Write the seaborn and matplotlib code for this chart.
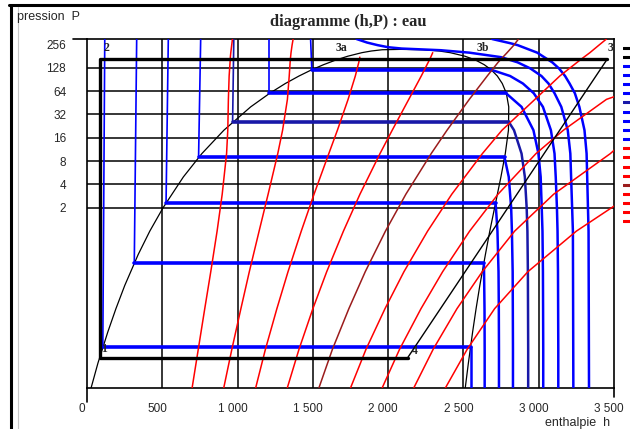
import numpy as np
import pandas as pd
import matplotlib.pyplot as plt
import matplotlib.transforms as mtransforms
from matplotlib.lines import Line2D
from matplotlib.ticker import NullLocator
import seaborn as sns

sns.set_style("white")
plt.rcParams['font.family'] = ['Liberation Sans', 'DejaVu Sans']

# ============================
# courbe de saturation (cloche)
# ============================
sat_P = [0.0095, 0.02, 0.05, 0.1, 0.2, 0.5, 1, 2, 5, 10, 20, 40, 60, 80, 100, 120, 140, 160, 180, 200, 210, 218, 220.6]
sat_hf = [27, 73, 138, 192, 251, 340, 417, 505, 640, 763, 909, 1087, 1214, 1317, 1408, 1491, 1571, 1650, 1732, 1826, 1888, 1960, 2084]
sat_hg = [2512, 2533, 2561, 2584, 2609, 2646, 2675, 2707, 2749, 2778, 2799, 2801, 2785, 2758, 2725, 2685, 2638, 2582, 2510, 2412, 2340, 2230, 2084]

# ============================
# isothermes (°C)
# ============================
iso_T = [25, 75, 125, 175, 225, 275, 325]
iso_psat = [0.0317, 0.386, 2.32, 8.92, 25.5, 59.5, 120.6]
iso_h_top = [118, 330, 540, 755, 975, 1210, 1485]   # liquide a 300 bar
iso_hf = [105, 314, 525, 741, 967, 1210, 1493]
iso_hg = [2547, 2636, 2713, 2773, 2802, 2785, 2683]

vap_P = [0.0095, 0.03, 0.1, 0.3, 1, 2, 5, 10, 20, 40, 60, 80, 100]
vap_h_25 = [2547, 2547]
vap_h_75 = [2641, 2641, 2640, 2637]
vap_h_125 = [2736, 2736, 2735, 2733, 2726, 2716]
vap_h_175 = [2829, 2829, 2828, 2827, 2822, 2817, 2801]
vap_h_225 = [2930, 2930, 2929, 2928, 2925, 2920, 2908, 2886, 2836]
vap_h_275 = [3030, 3030, 3029, 3028, 3025, 3020, 3013, 2998, 2965, 2886]
vap_h_325 = [3130, 3130, 3129, 3128, 3125, 3121, 3113, 3105, 3081, 3028, 2967, 2895, 2810]

# isothermes supercritiques
sc_P_375 = [300, 270, 250, 235, 226, 215, 200, 175, 150, 125, 100, 80, 60, 40, 20, 10, 1, 0.0095]
sc_h_375 = [1790, 1860, 1930, 2000, 2090, 2350, 2540, 2750, 2860, 2945, 3018, 3065, 3105, 3150, 3193, 3210, 3227, 3230]
sc_P_425 = [300, 265, 250, 200, 150, 125, 100, 80, 60, 40, 20, 10, 1, 0.0095]
sc_h_425 = [2690, 2810, 2860, 2990, 3090, 3135, 3175, 3205, 3240, 3270, 3304, 3318, 3331, 3334]

# ============================
# isentropes (kJ/kg.K)
# ============================
ise_P = [0.0095, 0.03, 0.1, 0.3, 1, 3, 10, 20, 50, 100, 150, 175, 200, 250, 300]
ise_h_250 = [698, 739, 782, 822, 864, 898, 927, 935, 939, 944, 950, 952, 955, 961, 966]
ise_h_325 = [908, 962, 1022, 1078, 1143, 1203, 1267, 1299, 1331, 1343, 1349, 1352, 1355, 1362, 1369]
ise_h_400 = [1120, 1185, 1261, 1335, 1423, 1508, 1606, 1663, 1734, 1782, 1805, 1812]
ise_h_475 = [1330, 1408, 1500, 1592, 1703, 1813, 1946, 2027, 2137, 2220, 2266, 2283, 2296]
ise_h_550 = [1540, 1630, 1739, 1848, 1982, 2118, 2286, 2391, 2539, 2658, 2730, 2762, 2790, 2835, 2866]
ise_h_625 = [1750, 1853, 1979, 2105, 2262, 2423, 2626, 2756, 2975, 3140, 3255, 3300, 3340, 3400, 3450]
ise_h_700 = [1960, 2076, 2218, 2362, 2541, 2730, 2982, 3164, 3450, 3900]
ise_h_775 = [2170, 2299, 2457, 2625, 2840, 3100, 3476, 3650]
ise_h_850 = [2380, 2525, 2707, 2928, 3250, 3620]

# ============================
# cycle 1-2-3-4
# ============================
cyc_h = [2130, 88, 88, 3455]
cyc_P = [0.0234, 0.0234, 165, 165]
cyc_labels = ["4", "1", "2", "3"]

x_ticks = [0, 500, 1000, 1500, 2000, 2500, 3000, 3500]
x_ticklabels = ["0", "500", "1 000", "1 500", "2 000", "2 500", "3 000", "3 500"]
y_ticks = [2, 4, 8, 16, 32, 64, 128, 256]

blue = "#0000ff"
navy = "#1818a8"
red = "#ff0000"
darkred = "#9b1c1c"

fig = plt.figure(figsize=(6.3, 4.29), dpi=100)
ax = fig.add_axes([87/630, 1-388/429, 527/630, 349/429])
ax.set_yscale("log", base=2)
ax.set_xlim(0, 3500)
ax.set_ylim(0.0095, 300)


def line(h, P, color, lw, z):
    d = pd.DataFrame({"h": h, "P": P})
    sns.lineplot(data=d, x="h", y="P", sort=False, estimator=None,
                 color=color, lw=lw, ax=ax, zorder=z)


# grille
for t in x_ticks[1:-1]:
    ax.axvline(t, color="black", lw=1.1, zorder=1)
for t in y_ticks[:-1]:
    ax.axhline(t, color="black", lw=1.1, zorder=1)

# cloche
line(sat_hf + sat_hg[::-1], sat_P + sat_P[::-1], "black", 0.9, 2)

# isothermes
vap_all = [vap_h_25, vap_h_75, vap_h_125, vap_h_175, vap_h_225, vap_h_275, vap_h_325]
for i, T in enumerate(iso_T):
    c = navy if T == 225 else blue
    line([iso_h_top[i], iso_hf[i]], [300, iso_psat[i]], c, 1.2, 3)
    line([iso_hf[i], iso_hg[i]], [iso_psat[i], iso_psat[i]], c, 2.6, 3)
    vh = vap_all[i]
    line([iso_hg[i]] + vh[::-1], [iso_psat[i]] + vap_P[:len(vh)][::-1], c, 1.8, 3)
line(sc_h_375, sc_P_375, blue, 1.8, 3)
line(sc_h_425, sc_P_425, blue, 1.8, 3)

# isentropes
ise_all = [ise_h_250, ise_h_325, ise_h_400, ise_h_475, ise_h_550,
           ise_h_625, ise_h_700, ise_h_775, ise_h_850]
for i, hs in enumerate(ise_all):
    c = darkred if i == 4 else red
    line(hs, ise_P[:len(hs)], c, 1.1, 4)

# cycle
line(cyc_h, cyc_P, "black", 2.4, 5)
line([cyc_h[3], cyc_h[0]], [cyc_P[3], cyc_P[0]], "black", 1.0, 5)
lab_h = [2180, 115, 126, 3478, 1690, 2630]
lab_P = [0.0285, 0.030, 233, 233, 233, 233]
for t, hh, pp in zip(cyc_labels + ["3a", "3b"], lab_h, lab_P):
    ax.text(hh, pp, t, ha="center", va="center", fontsize=8.5, fontweight="bold",
            family="Liberation Serif", zorder=6, clip_on=False)

# axes
ax.set_xticks(x_ticks)
ax.set_xticklabels(x_ticklabels)
ax.set_xticks(np.arange(250, 3500, 500), minor=True)
ax.set_yticks(y_ticks)
ax.set_yticklabels([str(v) for v in y_ticks])
ax.yaxis.set_minor_locator(NullLocator())
ax.tick_params(axis="x", which="major", length=0, pad=11, labelsize=8.5)
ax.tick_params(axis="x", which="minor", length=5, width=1.1, direction="out", color="black")
ax.tick_params(axis="y", which="major", length=10, width=1.1, pad=5, labelsize=8.5,
               direction="out", color="black")
yt = ax.yaxis.get_major_ticks()
yt[-1].tick1line.set_visible(False)
yt[0].tick1line.set_markersize(5)
for lab in ax.get_xticklabels():
    lab.set_transform(lab.get_transform() + mtransforms.ScaledTranslation(-5/100, 0, fig.dpi_scale_trans))
for s in ax.spines.values():
    s.set_color("black")
    s.set_linewidth(1.2)
ax.axhline(300, xmin=-14/527, xmax=0, color="black", lw=1.2, clip_on=False)
ax.axvline(0, ymin=-14/349, ymax=0, color="black", lw=1.2, clip_on=False)
ax.axvline(3500, ymin=-9/349, ymax=0, color="black", lw=1.2, clip_on=False)
ax.set_xlabel("")
ax.set_ylabel("")

# textes
fig.text(348/630, 1-22/429, "diagramme (h,P) : eau", ha="center", va="center",
         fontsize=11.8, fontweight="bold", family="Liberation Serif")
fig.text(17/630, 1-17/429, "pression  P", ha="left", va="center", fontsize=9)
fig.text(545/630, 1-423/429, "enthalpie  h", ha="left", va="center", fontsize=9)

# marques de legende a droite
leg_colors = ["black", "black"] + [blue] * 4 + [navy] + [blue] * 4 + [red] * 4 + [darkred] + [red] * 4
leg_ax = fig.add_axes([623/630, 1-226/429, 10/630, 183/429])
for i, c in enumerate(leg_colors):
    leg_ax.plot([0, 1], [i, i], color=c, lw=2.2)
leg_ax.set_ylim(len(leg_colors) - 0.5, -0.5)
leg_ax.set_xlim(0, 1)
leg_ax.axis("off")

# cadre fenetre
fig.add_artist(Line2D([9/630, 1], [1-4.5/429, 1-4.5/429], color="black", lw=2.2))
fig.add_artist(Line2D([10.5/630, 10.5/630], [0, 1-4.5/429], color="black", lw=2.2))
fig.add_artist(Line2D([17.8/630, 17.8/630], [0, 1-7/429], color="#c8c8c8", lw=0.8))

plt.savefig("out.png", dpi=100)
